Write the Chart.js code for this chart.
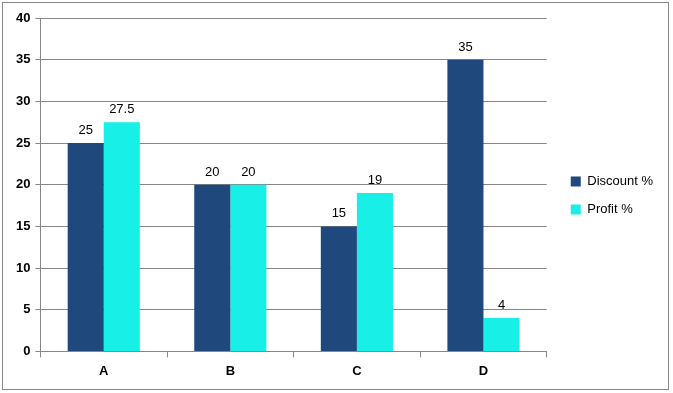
<!DOCTYPE html>
<html>
<head>
<meta charset="utf-8">
<script src="https://cdn.jsdelivr.net/npm/chart.js@4/dist/chart.umd.min.js"></script>
<style>
  body { margin: 0; background: #fff; }
  #box { position: absolute; left: 2px; top: 2px; width: 665px; height: 386px; border: 1px solid #878787; }
</style>
</head>
<body>
<div id="box"><canvas id="chart"></canvas></div>
<script>
const categories = ['A', 'B', 'C', 'D'];
const discount = [25, 20, 15, 35];
const profit = [27.5, 20, 19, 4];
const yTicks = [0, 5, 10, 15, 20, 25, 30, 35, 40];

const valueLabels = {
    id: 'valueLabels',
    afterLayout(chart) {
        // legend sits a little above the middle
        chart.legend.top -= 6;
        chart.legend.bottom -= 6;
    },
    afterDatasetsDraw(chart) {
        const ctx = chart.ctx;
        ctx.save();
        ctx.font = '13px "Liberation Sans", Arial, sans-serif';
        ctx.fillStyle = '#000';
        ctx.textAlign = 'center';
        ctx.textBaseline = 'bottom';
        chart.data.datasets.forEach(function(ds, i) {
            chart.getDatasetMeta(i).data.forEach(function(bar, j) {
                ctx.fillText(ds.data[j], bar.x, bar.y - 6);
            });
        });
        ctx.restore();
    }
};

new Chart(document.getElementById('chart'), {
    type: 'bar',
    data: {
        labels: categories,
        datasets: [
            { label: 'Discount %', data: discount, backgroundColor: '#1F497D' },
            { label: 'Profit %', data: profit, backgroundColor: '#17EFE7' }
        ]
    },
    options: {
        responsive: true,
        maintainAspectRatio: false,
        animation: false,
        layout: { padding: { top: 15, left: 8, right: 5, bottom: 4 } },
        datasets: { bar: { categoryPercentage: 0.57, barPercentage: 1 } },
        scales: {
            x: {
                grid: { drawOnChartArea: false, color: '#878787', tickLength: 6 },
                border: { color: '#878787' },
                ticks: { color: '#000', padding: 6, font: { size: 13, weight: 'bold', family: '"Liberation Sans", Arial, sans-serif' } }
            },
            y: {
                min: 0,
                max: 40,
                afterBuildTicks(axis) { axis.ticks = yTicks.map(v => ({ value: v })); },
                grid: { color: '#878787', tickLength: 5 },
                border: { color: '#878787' },
                ticks: { color: '#000', padding: 5, font: { size: 13, weight: 'bold', family: '"Liberation Sans", Arial, sans-serif' } }
            },
            // empty spacer between plot and legend
            gap: {
                position: 'right',
                grid: { display: false },
                border: { display: false },
                ticks: { display: false },
                afterFit(scale) { scale.width = 9; }
            }
        },
        plugins: {
            legend: {
                position: 'right',
                labels: {
                    boxWidth: 10,
                    boxHeight: 10,
                    padding: 15,
                    color: '#000',
                    font: { size: 13, family: '"Liberation Sans", Arial, sans-serif' }
                }
            },
            tooltip: { enabled: false }
        }
    },
    plugins: [valueLabels]
});
</script>
</body>
</html>
